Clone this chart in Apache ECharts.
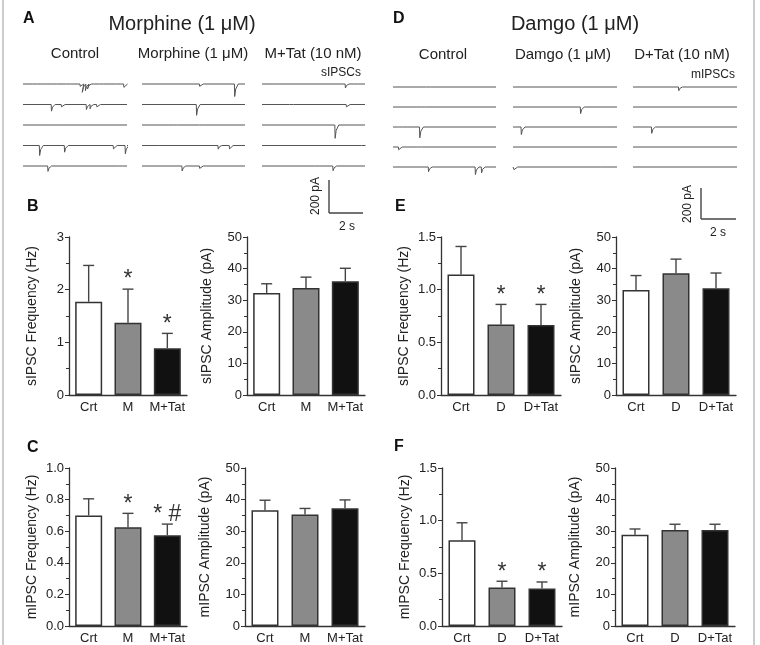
<!DOCTYPE html>
<html>
<head>
<meta charset="utf-8">
<script src="https://cdn.jsdelivr.net/npm/echarts@6.0.0/dist/echarts.min.js"></script>
<style>
  html, body { margin: 0; padding: 0; background: #fff; }
  #main { width: 760px; height: 645px; }
</style>
</head>
<body>
<div id="main"></div>
<script>
// groups
const groupsM = ['Crt', 'M', 'M+Tat'];
const groupsD = ['Crt', 'D', 'D+Tat'];

// morphine: means and SEM
const sFreqM = [1.77, 1.37, 0.89];
const sFreqMErr = [0.69, 0.64, 0.28];
const sAmpM = [32.3, 33.9, 36.0];
const sAmpMErr = [2.9, 3.4, 4.1];
const mFreqM = [0.70, 0.625, 0.575];
const mFreqMErr = [0.105, 0.088, 0.07];
const mAmpM = [36.6, 35.3, 37.3];
const mAmpMErr = [3.2, 1.9, 2.6];

// damgo: means and SEM
const sFreqD = [1.145, 0.67, 0.665];
const sFreqDErr = [0.265, 0.19, 0.195];
const sAmpD = [33.2, 38.5, 33.8];
const sAmpDErr = [4.6, 4.5, 4.8];
const mFreqD = [0.815, 0.365, 0.355];
const mFreqDErr = [0.165, 0.06, 0.063];
const mAmpD = [28.9, 30.4, 30.4];
const mAmpDErr = [1.8, 1.8, 1.8];

// significance marks
const sFreqMarkM = ['', '*', '*'];
const mFreqMarkM = ['', '*', '* #'];
const sFreqMarkD = ['', '*', '*'];
const mFreqMarkD = ['', '*', '*'];
const noMark = ['', '', ''];

// example traces: events as [time (s), amplitude (pA)], 5 sweeps per column
const ctrlA = [
    [[0.97, 10], [1.94, 8], [2.9, 10], [4.2, 8], [5.5, 14], [5.7, 50], [6.0, 40], [6.2, 30], [6.45, 12], [7.4, 10], [8.4, 8], [9.0, 12], [9.7, 20]],
    [[2.74, 40], [3.7, 14], [6.1, 30], [6.45, 26], [7.1, 14]],
    [[3.2, 12], [5.8, 6]],
    [[1.6, 60], [4.0, 40], [8.7, 20], [9.84, 50]],
    [[2.4, 32], [9.2, 10]]
];
const morA = [
    [[5.6, 14], [9.0, 75]],
    [[5.3, 65]],
    [[3.1, 8], [5.6, 8]],
    [[1.6, 10], [7.4, 22], [8.5, 20]],
    [[3.9, 30], [5.6, 14]]
];
const mtatA = [
    [[1.0, 12], [8.1, 24], [8.9, 8]],
    [[2.7, 6], [8.2, 14]],
    [[7.1, 80]],
    [[9.7, 10]],
    [[5.2, 12], [6.9, 28]]
];
const ctrlD = [
    [[3.3, 8]],
    [[2.8, 12]],
    [[0.55, 10], [2.6, 65]],
    [[0.55, 16], [2.4, 12]],
    [[3.45, 28], [8.0, 45], [8.6, 35]]
];
const damD = [
    [],
    [[6.5, 40]],
    [[0.8, 45], [8.6, 12]],
    [],
    [[0.1, 16], [8.1, 6]]
];
const dtatD = [
    [[4.4, 22]],
    [],
    [[1.8, 38]],
    [],
    []
];

const FONT = 'Liberation Sans, Arial, sans-serif';
const TXT = '#222';

var myChart = echarts.init(document.getElementById('main'));

let grids = [], xAxes = [], yAxes = [], series = [];

// turn event lists into a sweep path
function sweep(events, base) {
    let pts = [[0, base]];
    events.slice().sort((a, b) => a[0] - b[0]).forEach(e => {
        pts.push([e[0] - 0.03, base]);
        pts.push([e[0], base - e[1]]);
        pts.push([e[0] + 0.1, base - e[1] * 0.4]);
        pts.push([e[0] + 0.35, base]);
    });
    pts.push([10, base]);
    return pts;
}

function addTraces(sweeps, left, width, top, gap) {
    let gi = grids.length;
    grids.push({ left: left, top: top, width: width, height: 110 });
    xAxes.push({ gridIndex: gi, type: 'value', min: 0, max: 10, show: false });
    yAxes.push({ gridIndex: gi, type: 'value', min: -600, max: 60, show: false });
    sweeps.forEach((ev, i) => {
        series.push({
            type: 'line', xAxisIndex: gi, yAxisIndex: gi,
            data: sweep(ev, -i * gap), showSymbol: false, silent: true,
            lineStyle: { color: '#555', width: 1 }
        });
    });
}

const barColors = ['#ffffff', '#8a8a8a', '#111111'];

function addBars(p) {
    let gi = grids.length;
    grids.push({ left: p.left, top: p.top, width: p.width, height: 158 });
    xAxes.push({
        gridIndex: gi, type: 'category', data: p.cats,
        axisLine: { lineStyle: { color: '#333', width: 1.3 } },
        axisTick: { show: false },
        axisLabel: { color: TXT, fontSize: 13, fontFamily: FONT, margin: 6, interval: 0 }
    });
    yAxes.push({
        gridIndex: gi, type: 'value', min: 0, max: p.max, interval: p.interval,
        name: p.name, nameLocation: 'middle', nameRotate: 90, nameGap: p.gap,
        nameTextStyle: { color: TXT, fontSize: 14, fontFamily: FONT },
        axisLine: { show: true, lineStyle: { color: '#333', width: 1.3 } },
        axisTick: { show: true, inside: false, length: 4, lineStyle: { color: '#333' } },
        minorTick: { show: true, splitNumber: 2, length: 3, lineStyle: { color: '#333' } },
        splitLine: { show: false },
        axisLabel: {
            color: TXT, fontSize: 13, fontFamily: FONT, margin: 5,
            formatter: v => v.toFixed(p.digits)
        }
    });
    series.push({
        type: 'bar', xAxisIndex: gi, yAxisIndex: gi, barWidth: 27,
        data: p.vals.map((v, i) => ({
            value: v,
            itemStyle: { color: barColors[i], borderColor: '#333', borderWidth: 1.5 }
        }))
    });
    // SEM whisker (upper only) and significance mark
    series.push({
        type: 'custom', xAxisIndex: gi, yAxisIndex: gi, z: 5, silent: true,
        data: p.vals.map((v, i) => [i, v, v + p.errs[i]]),
        renderItem: function(params, api) {
            let base = api.coord([api.value(0), api.value(1)]);
            let top = api.coord([api.value(0), api.value(2)]);
            let mark = p.marks[params.dataIndex];
            let st = { stroke: '#444', lineWidth: 1.4 };
            let kids = [
                { type: 'line', shape: { x1: base[0], y1: base[1], x2: top[0], y2: top[1] }, style: st },
                { type: 'line', shape: { x1: top[0] - 5.5, y1: top[1], x2: top[0] + 5.5, y2: top[1] }, style: st }
            ];
            if (mark) {
                kids.push({
                    type: 'text', x: top[0], y: top[1] - 9,
                    style: { text: mark, fill: '#333', fontSize: 23, fontFamily: FONT, align: 'center', verticalAlign: 'middle' }
                });
            }
            return { type: 'group', children: kids };
        }
    });
}

// panel A / D traces
addTraces(ctrlA, 23, 104, 74, 123);
addTraces(morA, 142, 103, 74, 123);
addTraces(mtatA, 262, 103, 74, 123);
addTraces(ctrlD, 393, 103, 77, 120);
addTraces(damD, 513, 104, 77, 120);
addTraces(dtatD, 633, 104, 77, 120);

// bar panels B, C, E, F
addBars({ left: 69, top: 237, width: 118, cats: groupsM, vals: sFreqM, errs: sFreqMErr, marks: sFreqMarkM, max: 3, interval: 1, digits: 0, name: 'sIPSC Frequency (Hz)', gap: 30 });
addBars({ left: 247, top: 237, width: 118, cats: groupsM, vals: sAmpM, errs: sAmpMErr, marks: noMark, max: 50, interval: 10, digits: 0, name: 'sIPSC Amplitude (pA)', gap: 33 });
addBars({ left: 441, top: 237, width: 120, cats: groupsD, vals: sFreqD, errs: sFreqDErr, marks: sFreqMarkD, max: 1.5, interval: 0.5, digits: 1, name: 'sIPSC Frequency (Hz)', gap: 30 });
addBars({ left: 616, top: 237, width: 120, cats: groupsD, vals: sAmpD, errs: sAmpDErr, marks: noMark, max: 50, interval: 10, digits: 0, name: 'sIPSC Amplitude (pA)', gap: 33 });
addBars({ left: 69, top: 468, width: 118, cats: groupsM, vals: mFreqM, errs: mFreqMErr, marks: mFreqMarkM, max: 1, interval: 0.2, digits: 1, name: 'mIPSC Frequency (Hz)', gap: 30 });
addBars({ left: 245, top: 468, width: 120, cats: groupsM, vals: mAmpM, errs: mAmpMErr, marks: noMark, max: 50, interval: 10, digits: 0, name: 'mIPSC Amplitude (pA)', gap: 33 });
addBars({ left: 442, top: 468, width: 120, cats: groupsD, vals: mFreqD, errs: mFreqDErr, marks: mFreqMarkD, max: 1.5, interval: 0.5, digits: 1, name: 'mIPSC Frequency (Hz)', gap: 30 });
addBars({ left: 615, top: 468, width: 120, cats: groupsD, vals: mAmpD, errs: mAmpDErr, marks: noMark, max: 50, interval: 10, digits: 0, name: 'mIPSC Amplitude (pA)', gap: 33 });

function txt(x, y, s, size, opt) {
    return Object.assign({
        type: 'text', x: x, y: y,
        style: { text: s, fill: TXT, fontSize: size, fontFamily: FONT, align: 'center', verticalAlign: 'middle' }
    }, opt || {});
}
function letter(x, y, s) {
    return { type: 'text', x: x, y: y, style: { text: s, fill: '#111', fontSize: 16, fontWeight: 'bold', fontFamily: FONT, align: 'left', verticalAlign: 'middle' } };
}
function seg(x1, y1, x2, y2, c, w) {
    return { type: 'line', shape: { x1: x1, y1: y1, x2: x2, y2: y2 }, style: { stroke: c || '#444', lineWidth: w || 1.4 } };
}

let graphic = [
    seg(3, 0, 3, 645, '#bbb', 1.5),
    seg(754, 0, 754, 645, '#bbb', 1.5),
    letter(23, 19, 'A'), letter(393, 19, 'D'),
    letter(27, 207, 'B'), letter(395, 207, 'E'),
    letter(27, 448, 'C'), letter(394, 447, 'F'),
    txt(182, 24, 'Morphine (1 μM)', 20),
    txt(575, 24, 'Damgo (1 μM)', 20),
    txt(75, 54, 'Control', 15), txt(193, 54, 'Morphine (1 μM)', 15), txt(313, 54, 'M+Tat (10 nM)', 15),
    txt(443, 55, 'Control', 15), txt(563, 55, 'Damgo (1 μM)', 15), txt(682, 55, 'D+Tat (10 nM)', 15),
    { type: 'text', x: 361, y: 73, style: { text: 'sIPSCs', fill: TXT, fontSize: 12, fontFamily: FONT, align: 'right', verticalAlign: 'middle' } },
    { type: 'text', x: 735, y: 75, style: { text: 'mIPSCs', fill: TXT, fontSize: 12, fontFamily: FONT, align: 'right', verticalAlign: 'middle' } },
    // scale bars
    seg(329, 180, 329, 213), seg(329, 213, 363, 213),
    txt(316, 196, '200 pA', 12, { rotation: Math.PI / 2 }),
    txt(347, 227, '2 s', 12),
    seg(701, 188, 701, 219), seg(701, 219, 736, 219),
    txt(688, 204, '200 pA', 12, { rotation: Math.PI / 2 }),
    txt(718, 233, '2 s', 12)
];

var option = {
    animation: false,
    backgroundColor: '#fff',
    grid: grids,
    xAxis: xAxes,
    yAxis: yAxes,
    series: series,
    graphic: graphic
};
myChart.setOption(option);
</script>
</body>
</html>
